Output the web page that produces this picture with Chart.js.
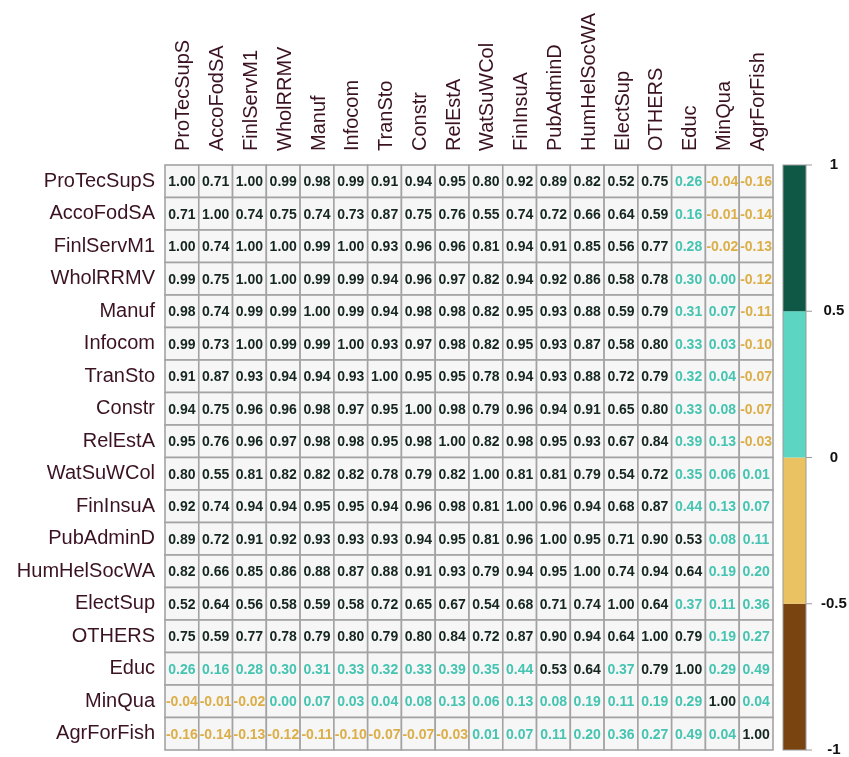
<!DOCTYPE html>
<html lang="en">
<head>
<meta charset="UTF-8">
<title>Sector correlation matrix</title>
<script src="https://cdn.jsdelivr.net/npm/chart.js"></script>
<style>
  body { margin: 0; background: #fff; }
  #wrap { width: 849px; height: 757px; }
</style>
</head>
<body>
<div id="wrap"><canvas id="corrChart" width="849" height="757"></canvas></div>
<script>
const sectors = ['ProTecSupS', 'AccoFodSA', 'FinlServM1', 'WholRRMV', 'Manuf', 'Infocom', 'TranSto', 'Constr', 'RelEstA',
  'WatSuWCol', 'FinInsuA', 'PubAdminD', 'HumHelSocWA', 'ElectSup', 'OTHERS', 'Educ', 'MinQua', 'AgrForFish'];

const corrRows = [
  [1.00, 0.71, 1.00, 0.99, 0.98, 0.99, 0.91, 0.94, 0.95, 0.80, 0.92, 0.89, 0.82, 0.52, 0.75, 0.26, -0.04, -0.16],
  [0.71, 1.00, 0.74, 0.75, 0.74, 0.73, 0.87, 0.75, 0.76, 0.55, 0.74, 0.72, 0.66, 0.64, 0.59, 0.16, -0.01, -0.14],
  [1.00, 0.74, 1.00, 1.00, 0.99, 1.00, 0.93, 0.96, 0.96, 0.81, 0.94, 0.91, 0.85, 0.56, 0.77, 0.28, -0.02, -0.13],
  [0.99, 0.75, 1.00, 1.00, 0.99, 0.99, 0.94, 0.96, 0.97, 0.82, 0.94, 0.92, 0.86, 0.58, 0.78, 0.30, 0.00, -0.12],
  [0.98, 0.74, 0.99, 0.99, 1.00, 0.99, 0.94, 0.98, 0.98, 0.82, 0.95, 0.93, 0.88, 0.59, 0.79, 0.31, 0.07, -0.11],
  [0.99, 0.73, 1.00, 0.99, 0.99, 1.00, 0.93, 0.97, 0.98, 0.82, 0.95, 0.93, 0.87, 0.58, 0.80, 0.33, 0.03, -0.10],
  [0.91, 0.87, 0.93, 0.94, 0.94, 0.93, 1.00, 0.95, 0.95, 0.78, 0.94, 0.93, 0.88, 0.72, 0.79, 0.32, 0.04, -0.07],
  [0.94, 0.75, 0.96, 0.96, 0.98, 0.97, 0.95, 1.00, 0.98, 0.79, 0.96, 0.94, 0.91, 0.65, 0.80, 0.33, 0.08, -0.07],
  [0.95, 0.76, 0.96, 0.97, 0.98, 0.98, 0.95, 0.98, 1.00, 0.82, 0.98, 0.95, 0.93, 0.67, 0.84, 0.39, 0.13, -0.03],
  [0.80, 0.55, 0.81, 0.82, 0.82, 0.82, 0.78, 0.79, 0.82, 1.00, 0.81, 0.81, 0.79, 0.54, 0.72, 0.35, 0.06, 0.01],
  [0.92, 0.74, 0.94, 0.94, 0.95, 0.95, 0.94, 0.96, 0.98, 0.81, 1.00, 0.96, 0.94, 0.68, 0.87, 0.44, 0.13, 0.07],
  [0.89, 0.72, 0.91, 0.92, 0.93, 0.93, 0.93, 0.94, 0.95, 0.81, 0.96, 1.00, 0.95, 0.71, 0.90, 0.53, 0.08, 0.11],
  [0.82, 0.66, 0.85, 0.86, 0.88, 0.87, 0.88, 0.91, 0.93, 0.79, 0.94, 0.95, 1.00, 0.74, 0.94, 0.64, 0.19, 0.20],
  [0.52, 0.64, 0.56, 0.58, 0.59, 0.58, 0.72, 0.65, 0.67, 0.54, 0.68, 0.71, 0.74, 1.00, 0.64, 0.37, 0.11, 0.36],
  [0.75, 0.59, 0.77, 0.78, 0.79, 0.80, 0.79, 0.80, 0.84, 0.72, 0.87, 0.90, 0.94, 0.64, 1.00, 0.79, 0.19, 0.27],
  [0.26, 0.16, 0.28, 0.30, 0.31, 0.33, 0.32, 0.33, 0.39, 0.35, 0.44, 0.53, 0.64, 0.37, 0.79, 1.00, 0.29, 0.49],
  [-0.04, -0.01, -0.02, 0.00, 0.07, 0.03, 0.04, 0.08, 0.13, 0.06, 0.13, 0.08, 0.19, 0.11, 0.19, 0.29, 1.00, 0.04],
  [-0.16, -0.14, -0.13, -0.12, -0.11, -0.10, -0.07, -0.07, -0.03, 0.01, 0.07, 0.11, 0.20, 0.36, 0.27, 0.49, 0.04, 1.00]
];

// colour bins: [-1,-0.5), [-0.5,0), [0,0.5), [0.5,1]
const binEdges = [-1, -0.5, 0, 0.5, 1];
const binColors = ['#7a4410', '#ebc261', '#5cd6c3', '#0f5846'];
const textColors = ['#6b3a0c', '#dcae48', '#45c4b1', '#14261f'];
const barTicks = [-1, -0.5, 0, 0.5, 1];

function binOf(v) {
  if (v >= 0.5) return 3;
  if (v >= 0) return 2;
  if (v >= -0.5) return 1;
  return 0;
}

const cells = [];
corrRows.forEach((row, i) => {
  row.forEach((v, j) => cells.push({ x: sectors[j], y: sectors[i], v: v }));
});

const cellPlugin = {
  id: 'cells',
  beforeDatasetsDraw(chart) {
    const { ctx } = chart;
    const x = chart.scales.x, y = chart.scales.y, cb = chart.scales.cb;
    const w = x.width / sectors.length, h = y.height / sectors.length;
    ctx.save();
    ctx.lineWidth = 1.6;
    ctx.strokeStyle = '#a3a3a3';
    ctx.textAlign = 'center';
    ctx.textBaseline = 'middle';
    ctx.font = 'bold 14px "Liberation Sans", Arial, sans-serif';
    cells.forEach(c => {
      const cx = x.getPixelForValue(sectors.indexOf(c.x));
      const cy = y.getPixelForValue(sectors.indexOf(c.y));
      ctx.fillStyle = '#f6f6f6';
      ctx.fillRect(cx - w / 2, cy - h / 2, w, h);
      ctx.strokeRect(cx - w / 2, cy - h / 2, w, h);
      ctx.fillStyle = textColors[binOf(c.v)];
      ctx.fillText(c.v.toFixed(2), cx, cy + 1);
    });

    // colour bar
    const bx = cb.left + 10, bw = 23;
    for (let k = 0; k < binColors.length; k++) {
      const top = cb.getPixelForValue(binEdges[k + 1]);
      const bot = cb.getPixelForValue(binEdges[k]);
      ctx.fillStyle = binColors[k];
      ctx.fillRect(bx, top, bw, bot - top);
    }
    ctx.lineWidth = 1;
    ctx.strokeStyle = '#9a9a9a';
    ctx.strokeRect(bx, cb.getPixelForValue(1), bw, cb.getPixelForValue(-1) - cb.getPixelForValue(1));
    barTicks.forEach(t => {
      const py = cb.getPixelForValue(t);
      ctx.beginPath();
      ctx.moveTo(bx + bw, py);
      ctx.lineTo(bx + bw + 6, py);
      ctx.stroke();
    });
    ctx.restore();
  }
};

const labelFont = { family: '"Liberation Sans", Arial, sans-serif', size: 20 };
const labelColor = '#3a1222';

function noPad(s) {
  s.paddingTop = 0;
  s.paddingBottom = 0;
}

new Chart(document.getElementById('corrChart'), {
  type: 'scatter',
  data: {
    datasets: [{
      data: cells,
      pointRadius: 0,
      pointHoverRadius: 0
    }]
  },
  options: {
    responsive: false,
    animation: false,
    layout: { padding: { left: 0, right: 0, top: 0, bottom: 7 } },
    plugins: {
      legend: { display: false },
      tooltip: { enabled: false }
    },
    scales: {
      x: {
        type: 'category',
        labels: sectors,
        position: 'top',
        offset: true,
        grid: { display: false, drawTicks: false },
        border: { display: false },
        ticks: {
          autoSkip: false,
          minRotation: 90,
          maxRotation: 90,
          padding: 14,
          labelOffset: 26,
          color: labelColor,
          font: labelFont
        },
        afterFit: s => { s.height = 165; s.paddingLeft = 0; s.paddingRight = 0; }
      },
      y: {
        type: 'category',
        labels: sectors,
        position: 'left',
        offset: true,
        grid: { display: false, drawTicks: false },
        border: { display: false },
        ticks: {
          autoSkip: false,
          padding: 10,
          color: labelColor,
          font: labelFont
        },
        afterFit: s => { s.width = 165; noPad(s); }
      },
      cb: {
        type: 'linear',
        position: 'right',
        min: -1,
        max: 1,
        grid: { display: false, drawTicks: false },
        border: { display: false },
        ticks: {
          stepSize: 0.5,
          padding: 48,
          crossAlign: 'center',
          color: '#111',
          font: { family: '"Liberation Sans", Arial, sans-serif', size: 15, weight: 'bold' },
          callback: v => String(v)
        },
        afterFit: s => { s.width = 76; noPad(s); }
      }
    }
  },
  plugins: [cellPlugin]
});
</script>
</body>
</html>
